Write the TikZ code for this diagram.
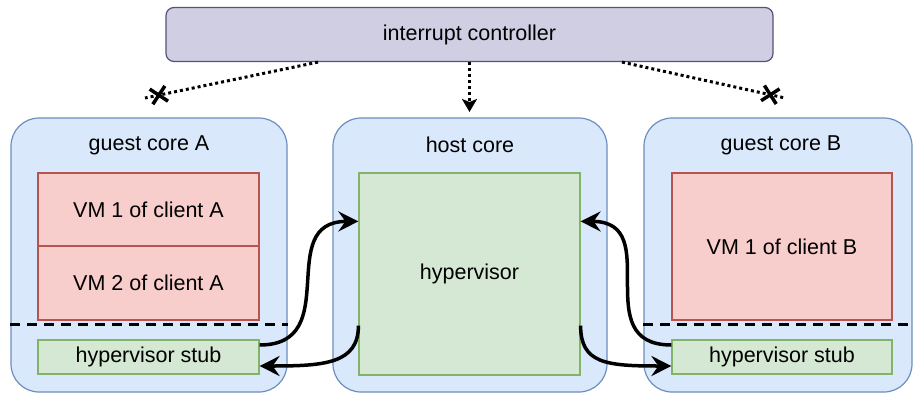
\documentclass[tikz,border=0pt]{standalone}
\usepackage{fontspec}
\setmainfont{Liberation Sans}
\usetikzlibrary{arrows.meta,shapes.misc,calc}
\definecolor{icfill}{HTML}{D0CEE2}
\definecolor{icdraw}{HTML}{56517E}
\definecolor{corefill}{HTML}{DAE8FC}
\definecolor{coredraw}{HTML}{6C8EBF}
\definecolor{vmfill}{HTML}{F8CECC}
\definecolor{vmdraw}{HTML}{B85450}
\definecolor{hvfill}{HTML}{D5E8D4}
\definecolor{hvdraw}{HTML}{82B366}
\tikzset{
  box/.style={draw, line width=1.2pt, inner sep=0pt, font=\fontsize{21.5}{25}\selectfont},
  icbox/.style={box, fill=icfill, draw=icdraw, rounded corners=8pt},
  corebox/.style={box, fill=corefill, draw=coredraw, rounded corners=28pt},
  vmbox/.style={box, fill=vmfill, draw=vmdraw},
  hvbox/.style={box, fill=hvfill, draw=hvdraw},
  title/.style={font=\fontsize{21.5}{25}\selectfont, inner sep=0pt},
  link/.style={line width=3.5pt, -{Stealth[length=20pt,width=20pt,inset=7pt]}},
  dotline/.style={line width=3pt, dash pattern=on 3pt off 3pt},
  sepline/.style={line width=3pt, dash pattern=on 10pt off 7pt},
  xmark/.style={cross out, draw, solid, line width=3.5pt, minimum size=12pt, inner sep=0pt, sloped}
}
\begin{document}
\begin{tikzpicture}[x=1pt,y=-1pt]
\useasboundingbox (0,0) rectangle (913,394);
% cores
\node[corebox, minimum width=276pt, minimum height=274pt] (coreA) at (149,255) {};
\node[corebox, minimum width=274pt, minimum height=274pt] (host) at (470,255) {};
\node[corebox, minimum width=268pt, minimum height=274pt] (coreB) at (778,255) {};
\node[title] (tA) at (149,145) {guest core A};
\node[title] (tH) at (470,145) {host core};
\node[title] (tB) at (781,145) {guest core B};
% interrupt controller
\node[icbox, minimum width=607pt, minimum height=54pt] (ic) at (469.5,34.5) {interrupt controller};
% inner boxes
\node[vmbox, minimum width=221pt, minimum height=73pt] (vm1a) at (148.5,209.5) {VM 1 of client A};
\node[vmbox, minimum width=221pt, minimum height=74pt] (vm2a) at (148.5,283) {VM 2 of client A};
\node[hvbox, minimum width=221pt, minimum height=34pt] (stubA) at (148.5,357) {hypervisor stub};
\node[hvbox, minimum width=221pt, minimum height=202pt] (hyp) at (469.5,274) {hypervisor};
\node[vmbox, minimum width=220pt, minimum height=147pt] (vm1b) at (782,246.5) {VM 1 of client B};
\node[hvbox, minimum width=220pt, minimum height=34pt] (stubB) at (782,357) {hypervisor stub};
% separator lines
\draw[sepline] (coreA.west |- 0,324) -- (coreA.east |- 0,324);
\draw[sepline] (coreB.west |- 0,324) -- (913,324);
% dotted interrupt lines
\coordinate (xl) at (145,98);
\coordinate (xr) at (785,98);
\coordinate (hc) at (469.5,112);
\draw[dotline] ([xshift=-151.5pt]ic.south) -- (xl) node[xmark, pos=0.92] (crossL) {};
\draw[dotline] ([xshift=152.5pt]ic.south) -- (xr) node[xmark, pos=0.91] (crossR) {};
\draw[dotline, -{Stealth[length=13pt,width=15pt,inset=3pt]}] (ic.south) -- (hc);
% links
\draw[link] ([yshift=12pt]stubA.east) .. controls +(85,0) and +(-85,0) .. ([yshift=-49pt]hyp.north west);
\draw[link] ([yshift=50pt]hyp.south west) .. controls +(0,38) and +(65,0) .. ([yshift=-9pt]stubA.east);
\draw[link] ([yshift=12pt]stubB.west) .. controls +(-85,0) and +(85,0) .. ([yshift=-49pt]hyp.north east);
\draw[link] ([yshift=50pt]hyp.south east) .. controls +(0,38) and +(-65,0) .. ([yshift=-9pt]stubB.west);
\end{tikzpicture}
\end{document}
